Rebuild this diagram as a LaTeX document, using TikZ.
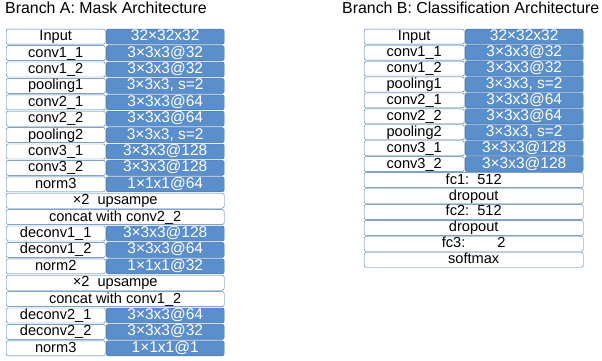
\documentclass[tikz,border=0pt]{standalone}
\usepackage{fontspec}
\setmainfont{Liberation Sans}
\definecolor{cellblue}{RGB}{91,143,203}
\definecolor{edgeblue}{RGB}{66,113,172}
\begin{document}
\begin{tikzpicture}[
    x=1pt, y=-1pt,
    lab/.style={draw=edgeblue, fill=white, rounded corners=2pt, anchor=north west,
                minimum height=15pt, inner sep=0pt, text height=10.5pt, text depth=2.5pt,
                font=\fontsize{14.6}{15}\selectfont},
    val/.style={lab, fill=cellblue, text=white, font=\fontsize{15.5}{16}\selectfont},
    title/.style={anchor=north west, inner sep=0pt, font=\fontsize{15.9}{17}\selectfont}
  ]
  \useasboundingbox (0,0) rectangle (602,361);
  % Branch A
  \node[title] (titleA) at (5,2) {Branch A: Mask Architecture};
  \foreach \i/\l/\v in {0/Input/32×32x32, 1/conv1\_1/3×3x3@32, 2/conv1\_2/3×3x3@32,
      3/pooling1/{3×3x3, s=2}, 4/conv2\_1/3×3x3@64, 5/conv2\_2/3×3x3@64,
      6/pooling2/{3×3x3, s=2}, 7/conv3\_1/3×3x3@128, 8/conv3\_2/3×3x3@128,
      9/norm3/1×1x1@64, 12/deconv1\_1/3×3x3@128, 13/deconv1\_2/3×3x3@64,
      14/norm2/1×1x1@32, 17/deconv2\_1/3×3x3@64, 18/deconv2\_2/3×3x3@32,
      19/norm3/1×1x1@1}{
    \node[lab, minimum width=99pt] (al\i) at (6,{29+16.4*\i}) {\l};
    \node[val, minimum width=118pt] (av\i) at (106,{29+16.4*\i}) {\v};
  }
  \foreach \i/\l in {10/×2\ \ upsampe, 11/concat with conv2\_2,
      15/×2\ \ upsampe, 16/concat with conv1\_2}{
    \node[lab, minimum width=218pt] (af\i) at (6,{29+16.4*\i}) {\l};
  }
  % Branch B
  \node[title] (titleB) at (342,2) {Branch B: Classification Architecture};
  \foreach \i/\l/\v in {0/Input/32×32x32, 1/conv1\_1/3×3x3@32, 2/conv1\_2/3×3x3@32,
      3/pooling1/{3×3x3, s=2}, 4/conv2\_1/3×3x3@64, 5/conv2\_2/3×3x3@64,
      6/pooling2/{3×3x3, s=2}, 7/conv3\_1/3×3x3@128, 8/conv3\_2/3×3x3@128}{
    \node[lab, minimum width=100pt] (bl\i) at (364,{29+15.93*\i}) {\l};
    \node[val, minimum width=118pt] (bv\i) at (465,{29+15.93*\i}) {\v};
  }
  \foreach \i/\l in {9/fc1:\ \ 512, 10/dropout, 11/fc2:\ \ 512, 12/dropout,
      13/fc3:\hspace{2.2em}2, 14/softmax}{
    \node[lab, minimum width=219pt] (bf\i) at (364,{29+15.93*\i}) {\l};
  }
\end{tikzpicture}
\end{document}
